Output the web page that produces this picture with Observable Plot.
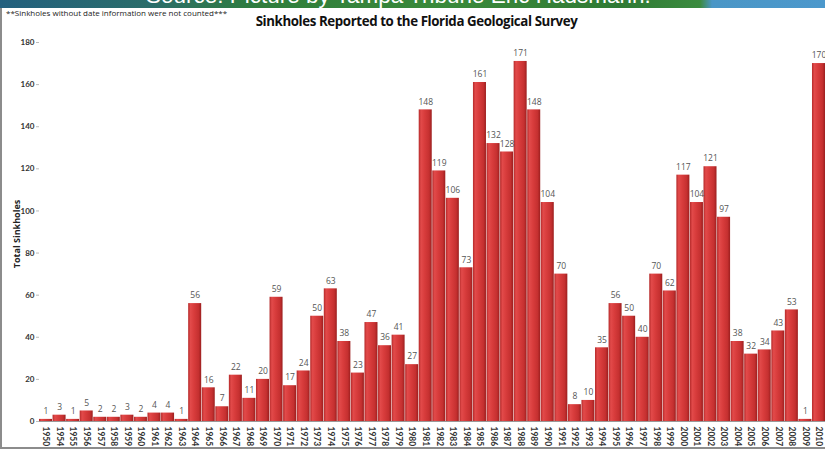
<!DOCTYPE html>
<html>
<head>
<meta charset="utf-8">
<script src="https://cdn.jsdelivr.net/npm/d3@7"></script>
<script src="https://cdn.jsdelivr.net/npm/@observablehq/plot@0.6"></script>
<style>
  html, body { margin: 0; padding: 0; background: #fff; }
  #wrap { position: relative; width: 825px; height: 451px; overflow: hidden; background: #fff; font-family: Lato, "Open Sans", sans-serif; }
  #banner { position: absolute; left: 0; top: 0; width: 825px; height: 8px; overflow: hidden;
    background: linear-gradient(to right, #23607f 0px, #2a6d6a 150px, #2f7d3c 260px, #3a8a3a 450px, #2f7a34 620px, #3b8b3f 700px, #4a96c6 712px, #4c98cc 825px); z-index: 2; }
  #banner span { position: absolute; left: 146px; top: -17px; font-family: "Liberation Sans", sans-serif; font-size: 22.5px; line-height: 26px; color: #fff; white-space: nowrap; }
  #note { position: absolute; left: 6px; top: 7px; font-size: 8px; color: #222; z-index: 2; font-family: "Open Sans", sans-serif; }
  #title { position: absolute; left: 0; width: 833px; top: 12px; text-align: center; font-size: 13.3px; font-weight: bold; color: #111; z-index: 2; font-family: "Open Sans", sans-serif; letter-spacing: -0.4px; }
  #frameL { position: absolute; left: 0; top: 8px; width: 2px; height: 441px; background: #8c8c8c; z-index: 2; }
  #frameB { position: absolute; left: 0; top: 447px; width: 825px; height: 2px; background: #8c8c8c; z-index: 2; }
  #chart { position: absolute; left: 0; top: 0; }
</style>
</head>
<body>
<div id="wrap">
  <div id="banner"><span>Source: Picture by Tampa Tribune Eric Hadsmann.</span></div>
  <div id="note">**Sinkholes without date information were not counted***</div>
  <div id="title">Sinkholes Reported to the Florida Geological Survey</div>
  <div id="frameL"></div>
  <div id="frameB"></div>
  <div id="chart"></div>
</div>
<script>
const years = ["1950","1954","1955","1956","1957","1958","1959","1960","1961","1962","1963","1964","1965","1966","1967","1968","1969","1970","1971","1972","1973","1974","1975","1976","1977","1978","1979","1980","1981","1982","1983","1984","1985","1986","1987","1988","1989","1990","1991","1992","1993","1994","1995","1996","1997","1998","1999","2000","2001","2002","2003","2004","2005","2006","2007","2008","2009","2010"];
const counts = [1,3,1,5,2,2,3,2,4,4,1,56,16,7,22,11,20,59,17,24,50,63,38,23,47,36,41,27,148,119,106,73,161,132,128,171,148,104,70,8,10,35,56,50,40,70,62,117,104,121,97,38,32,34,43,53,1,170];
const yTicks = [0,20,40,60,80,100,120,140,160,180];
const yLabel = "Total Sinkholes";

const data = years.map((year, i) => ({year, count: counts[i]}));

const chart = Plot.plot({
  width: 825,
  height: 451,
  marginTop: 42,
  marginBottom: 30,
  marginLeft: 39,
  marginRight: 0,
  style: {fontFamily: "Lato, 'Open Sans', sans-serif", background: "transparent", overflow: "visible"},
  x: {domain: years, paddingInner: 0.04, paddingOuter: 0, label: null},
  y: {domain: [0, 180], label: null},
  marks: [
    Plot.barY(data, {x: "year", y: "count", fill: "url(#barGrad)"}),
    Plot.text(data, {x: "year", y: "count", text: d => String(d.count), dy: -8, fill: "#555", fontSize: 8.5, fontFamily: "'Open Sans', sans-serif"}),
    Plot.ruleY([0], {stroke: "#999", strokeWidth: 1}),
    Plot.axisY({ticks: yTicks, tickSize: 3, tickPadding: 2, fontSize: 8, fontWeight: "bold", color: "#333", stroke: "#bbb", label: null}),
    Plot.axisX({tickSize: 0, tickRotate: 90, tickPadding: 5, fontSize: 8.5, fontWeight: "bold", color: "#333", label: null}),
    Plot.text([yLabel], {frameAnchor: "left", textAnchor: "middle", dx: -22, dy: 2, rotate: -90, fontSize: 9, fontWeight: "bold", fill: "#222", fontFamily: "'Open Sans', sans-serif"})
  ]
});

const svg = d3.select(chart);
const defs = svg.insert("defs", ":first-child");
const g = defs.append("linearGradient").attr("id", "barGrad").attr("x1", "0").attr("x2", "1").attr("y1", "0").attr("y2", "0");
[["0%", "#b52a2a"], ["18%", "#e24a4a"], ["45%", "#d83c3c"], ["80%", "#c53030"], ["100%", "#9c1f1f"]].forEach(([o, c]) => g.append("stop").attr("offset", o).attr("stop-color", c));
document.getElementById("chart").appendChild(chart);
</script>
</body>
</html>
